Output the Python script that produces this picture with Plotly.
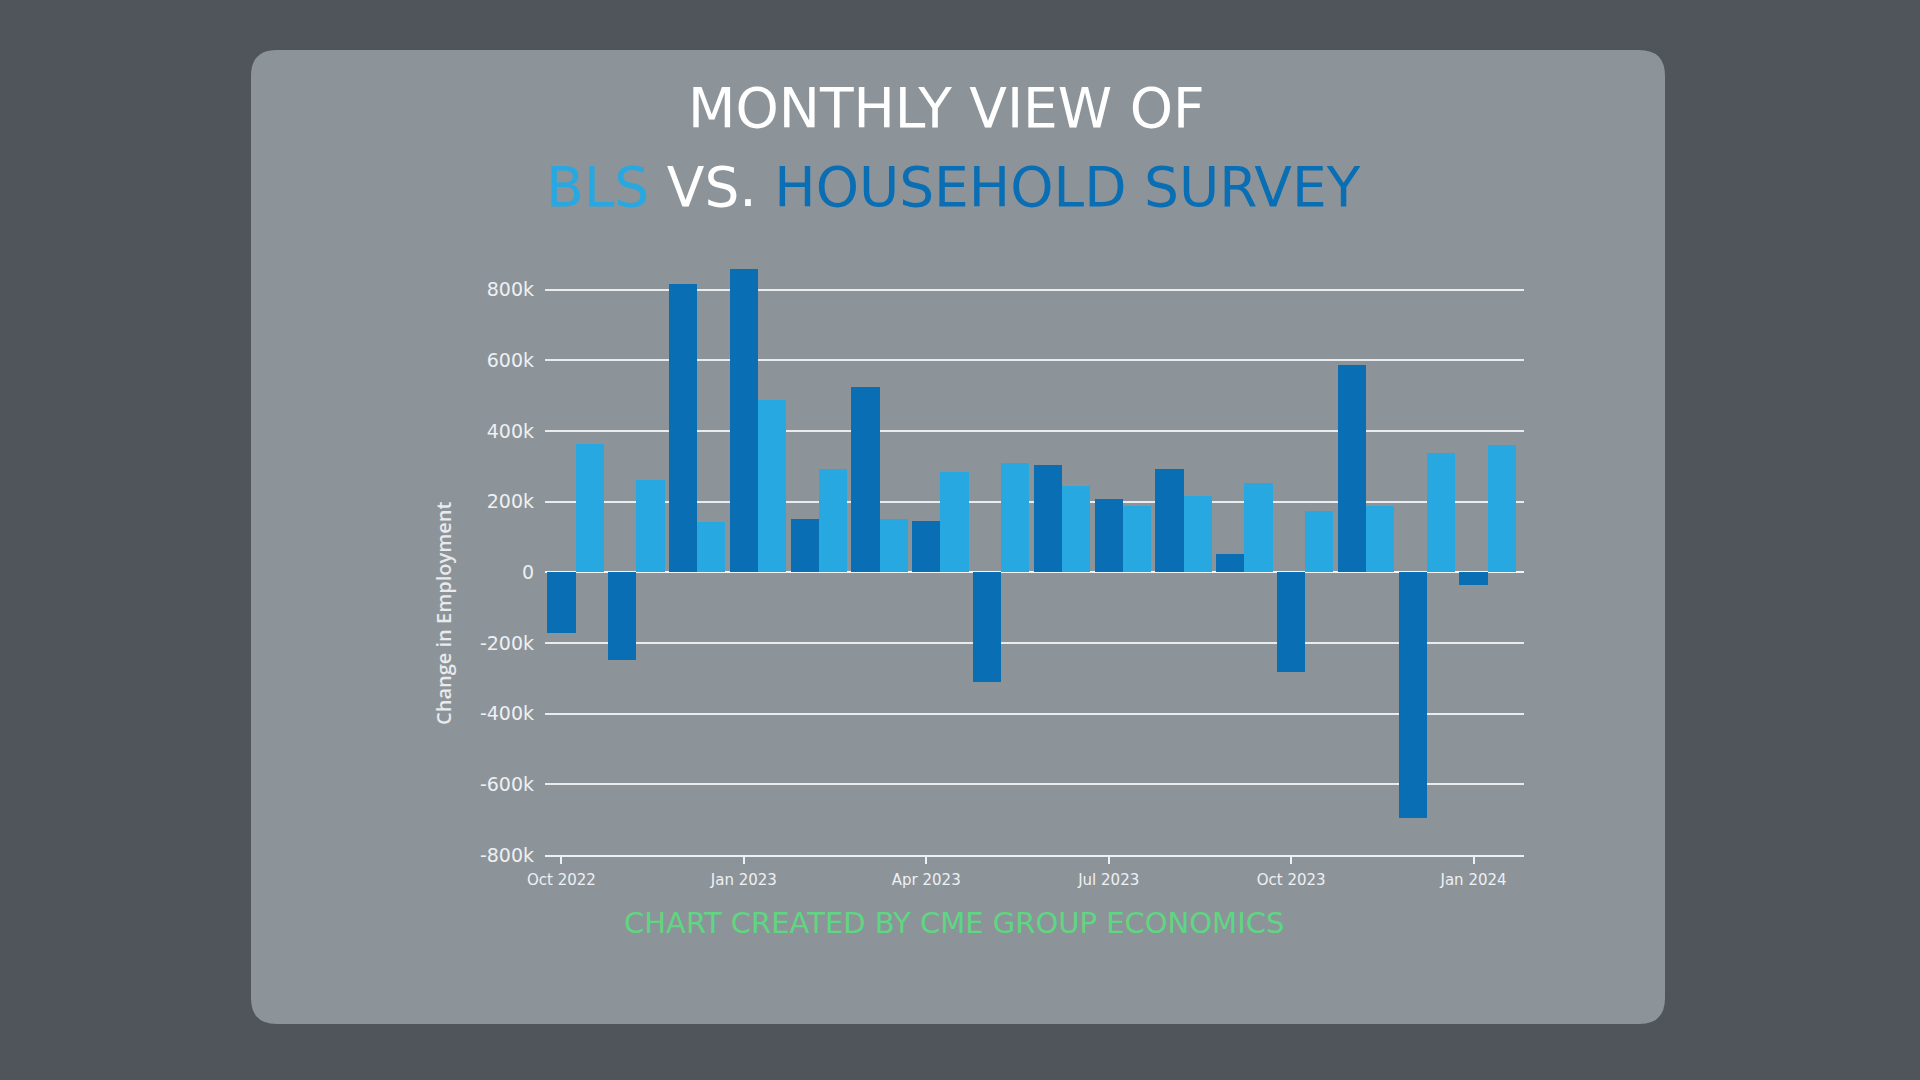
import plotly.graph_objects as go

# ---- data ----
months = ["Oct 2022", "Nov 2022", "Dec 2022", "Jan 2023", "Feb 2023", "Mar 2023",
          "Apr 2023", "May 2023", "Jun 2023", "Jul 2023", "Aug 2023", "Sep 2023",
          "Oct 2023", "Nov 2023", "Dec 2023", "Jan 2024"]
household = [-171000, -249000, 816000, 860000, 151000, 526000, 146000, -311000,
             304000, 208000, 294000, 53000, -283000, 588000, -694000, -35000]
bls = [364000, 262000, 143000, 489000, 294000, 152000, 284000, 310000,
       244000, 187000, 216000, 254000, 174000, 187000, 337000, 360000]
x_tick_labels = ["Oct 2022", "Jan 2023", "Apr 2023", "Jul 2023", "Oct 2023", "Jan 2024"]
y_tick_vals = [-800000, -600000, -400000, -200000, 0, 200000, 400000, 600000, 800000]
y_tick_text = ["-800k", "-600k", "-400k", "-200k", "0", "200k", "400k", "600k", "800k"]

DARK = "#0a6eb4"
LIGHT = "#27a8e0"

# layout in pixels
W, H = 1920, 1080
PL, PR, PT, PB = 545, 1524, 265, 855


def px_x(p):
    return (p - PL) / (PR - PL)


def px_y(p):
    return (PB - p) / (PB - PT)


fig = go.Figure()
fig.add_trace(go.Bar(x=months, y=household, name="Household Survey",
                     marker=dict(color=DARK, line=dict(width=0)),
                     width=0.464, offset=-0.232))
fig.add_trace(go.Bar(x=months, y=bls, name="BLS",
                     marker=dict(color=LIGHT, line=dict(width=0)),
                     width=0.464, offset=0.232))

# card with rounded corners
x0, x1 = px_x(251), px_x(1665)
y0, y1 = px_y(1024), px_y(50)
rx = 26 / (PR - PL)
ry = 26 / (PB - PT)
path = (f"M {x0+rx},{y1} L {x1-rx},{y1} Q {x1},{y1} {x1},{y1-ry} "
        f"L {x1},{y0+ry} Q {x1},{y0} {x1-rx},{y0} "
        f"L {x0+rx},{y0} Q {x0},{y0} {x0},{y0+ry} "
        f"L {x0},{y1-ry} Q {x0},{y1} {x0+rx},{y1} Z")
fig.add_shape(type="path", path=path, xref="paper", yref="paper",
              fillcolor="#8c949a", line=dict(width=0), layer="below")

title_font = dict(family="DejaVu Sans", size=55, color="#ffffff")
fig.add_annotation(text="MONTHLY VIEW OF", xref="paper", yref="paper",
                   x=px_x(946), y=px_y(108), showarrow=False,
                   xanchor="center", yanchor="middle", font=title_font)
fig.add_annotation(
    text=(f"<span style='color:{LIGHT}'>BLS</span> VS. "
          f"<span style='color:{DARK}'>HOUSEHOLD SURVEY</span>"),
    xref="paper", yref="paper", x=px_x(953), y=px_y(187), showarrow=False,
    xanchor="center", yanchor="middle", font=title_font)
fig.add_annotation(text="CHART CREATED BY CME GROUP ECONOMICS", xref="paper", yref="paper",
                   x=px_x(954), y=px_y(923), showarrow=False,
                   xanchor="center", yanchor="middle",
                   font=dict(family="DejaVu Sans", size=29, color="#5fd681"))
fig.add_annotation(text="Change in Employment", xref="paper", yref="paper",
                   x=px_x(443), y=px_y(614), showarrow=False, textangle=-90,
                   xanchor="center", yanchor="middle",
                   font=dict(family="Open Sans", size=20, color="#e8eaec", weight=600))

fig.update_layout(
    width=W, height=H,
    margin=dict(l=PL, r=W - PR, t=PT, b=H - PB, pad=0),
    paper_bgcolor="#4f555a",
    plot_bgcolor="rgba(0,0,0,0)",
    showlegend=False,
    bargap=0, barmode="overlay",
    font=dict(family="DejaVu Sans", color="#eef0f2"),
)
fig.update_xaxes(
    type="category", range=[-0.27, 15.83],
    tickvals=[months[i] for i in range(0, 16, 3)], ticktext=x_tick_labels,
    ticks="outside", ticklen=7, tickwidth=2, tickcolor="#eef0f2",
    showline=True, linecolor="#eef0f2", linewidth=2,
    showgrid=False, zeroline=False, ticklabelstandoff=3,
    tickfont=dict(family="DejaVu Sans", size=15, color="#eef0f2"),
)
fig.update_yaxes(
    range=[-800000, 870000],
    tickvals=y_tick_vals, ticktext=y_tick_text,
    showgrid=True, gridcolor="#e9ebed", gridwidth=2,
    zeroline=True, zerolinecolor="#f2f4f5", zerolinewidth=2,
    ticks="", ticklabelstandoff=10,
    tickfont=dict(family="DejaVu Sans", size=19, color="#eef0f2"),
)

fig.write_html("out.html")
